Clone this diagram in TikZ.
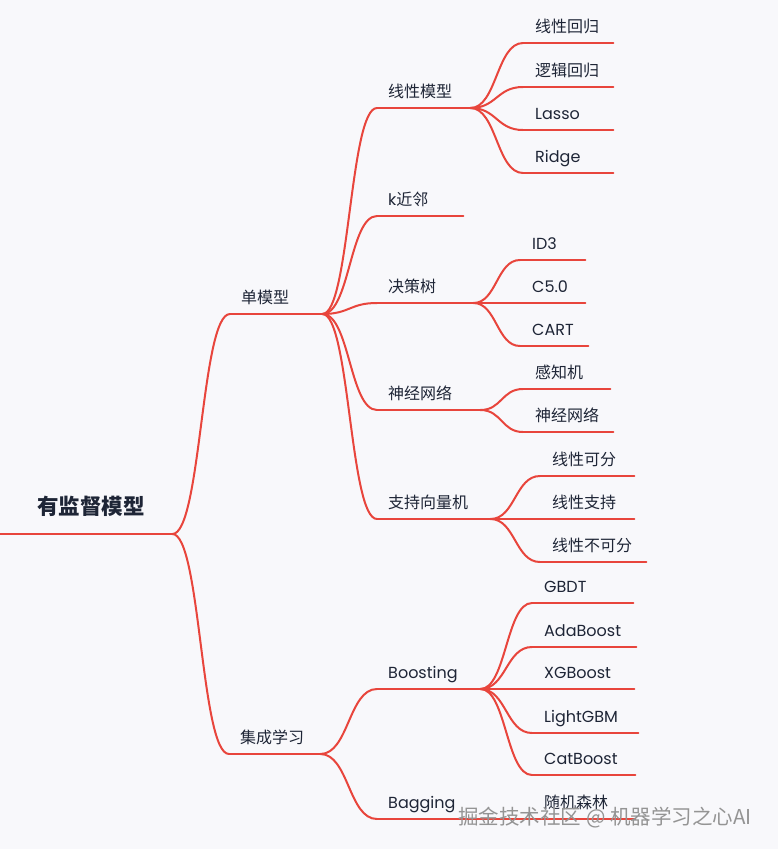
\documentclass[tikz,border=0pt]{standalone}
\usepackage{fontspec}
\setmainfont{Poppins}
\newfontfamily\cjk{Noto Sans CJK SC}
\usepackage{tikz}
\usetikzlibrary{calc}
\definecolor{linered}{HTML}{E8453C}
\definecolor{inkblue}{HTML}{1E2536}
\definecolor{paper}{HTML}{F8F8FB}

\begin{document}
\begin{tikzpicture}[x=1pt, y=-1pt,
    branch/.style={draw=linered, line width=2pt, line cap=round},
    link/.style={branch, to path={let \p1=(\tikztostart), \p2=(\tikztotarget) in
        .. controls ({(\x1+\x2)/2},\y1) and ({(\x1+\x2)/2},\y2) .. (\tikztotarget)}},
    topic/.style={anchor=south west, inner xsep=11pt, inner ysep=0pt, align=left,
        text height=12pt, text depth=10pt, text=inkblue, font=\fontsize{16}{19}\selectfont},
    leaf/.style={topic, inner xsep=12pt},
    zh/.style={font=\cjk\fontsize{16}{19}\selectfont},
    watermark/.style={text=black!42, font=\cjk\fontsize{20.5}{24}\selectfont}]
    \useasboundingbox (0,0) rectangle (778,849);
    \fill[paper] (0,0) rectangle (778,849);

    % root and first level
    \node[topic, inner xsep=0pt, text width=172pt, text depth=19pt,
        font=\cjk\bfseries\fontsize{21.5}{24}\selectfont] (root) at (0,534) {\hspace*{37pt}有监督模型};
    \node[topic, zh, text width=70pt] (single) at (230,314) {单模型};
    \node[topic, zh, text width=69pt] (ensemble) at (229,754) {集成学习};

    % single models
    \node[topic, zh, text width=71pt] (linear) at (377,108) {线性模型};
    \node[topic, text width=64pt] (knn) at (377,216) {k{\cjk 近邻}};
    \node[topic, zh, text width=74pt] (tree) at (377,303) {决策树};
    \node[topic, zh, text width=81pt] (nn) at (377,410) {神经网络};
    \node[topic, zh, text width=91pt] (svm) at (377,519) {支持向量机};

    \node[leaf, zh, text width=66pt] (linreg) at (523,43) {线性回归};
    \node[leaf, zh, text width=66pt] (logreg) at (523,87) {逻辑回归};
    \node[leaf, text width=66pt] (lasso) at (523,130) {Lasso};
    \node[leaf, text width=66pt] (ridge) at (523,173) {Ridge};

    \node[leaf, text width=41pt] (id3) at (520,260) {ID3};
    \node[leaf, text width=41pt] (c50) at (520,303) {C5.0};
    \node[leaf, text width=44pt] (cart) at (520,346) {CART};

    \node[leaf, zh, text width=63pt] (perceptron) at (523,389) {感知机};
    \node[leaf, zh, text width=66pt] (neuralnet) at (523,432) {神经网络};

    \node[leaf, zh, text width=70pt] (separable) at (540,476) {线性可分};
    \node[leaf, zh, text width=70pt] (support) at (540,519) {线性支持};
    \node[leaf, zh, text width=82pt] (nonsep) at (540,562) {线性不可分};

    % ensembles
    \node[topic, text width=81pt] (boosting) at (377,689) {Boosting};
    \node[topic, text width=81pt] (bagging) at (377,819) {Bagging};

    \node[leaf, text width=77pt] (gbdt) at (532,603) {GBDT};
    \node[leaf, text width=80pt] (adaboost) at (532,647) {AdaBoost};
    \node[leaf, text width=78pt] (xgboost) at (532,689) {XGBoost};
    \node[leaf, text width=82pt] (lightgbm) at (532,733) {LightGBM};
    \node[leaf, text width=79pt] (catboost) at (532,775) {CatBoost};
    \node[leaf, zh, text width=79pt] (forest) at (532,819) {随机森林};

    % underlines
    \foreach \n in {root, single, ensemble, linear, knn, tree, nn, svm,
        linreg, logreg, lasso, ridge, id3, c50, cart, perceptron, neuralnet,
        separable, support, nonsep, boosting, bagging,
        gbdt, adaboost, xgboost, lightgbm, catboost, forest}
        \draw[branch] (\n.south west) -- (\n.south east);

    % branches
    \foreach \a/\b in {root/single, root/ensemble,
        single/linear, single/knn, single/tree, single/nn, single/svm,
        linear/linreg, linear/logreg, linear/lasso, linear/ridge,
        tree/id3, tree/c50, tree/cart, nn/perceptron, nn/neuralnet,
        svm/separable, svm/support, svm/nonsep,
        ensemble/boosting, ensemble/bagging,
        boosting/gbdt, boosting/adaboost, boosting/xgboost, boosting/lightgbm, boosting/catboost,
        bagging/forest}
        \draw[link] (\a.south east) to (\b.south west);

    \node[watermark] (mark) at (605,818) {掘金技术社区 @ 机器学习之心AI};
\end{tikzpicture}
\end{document}
